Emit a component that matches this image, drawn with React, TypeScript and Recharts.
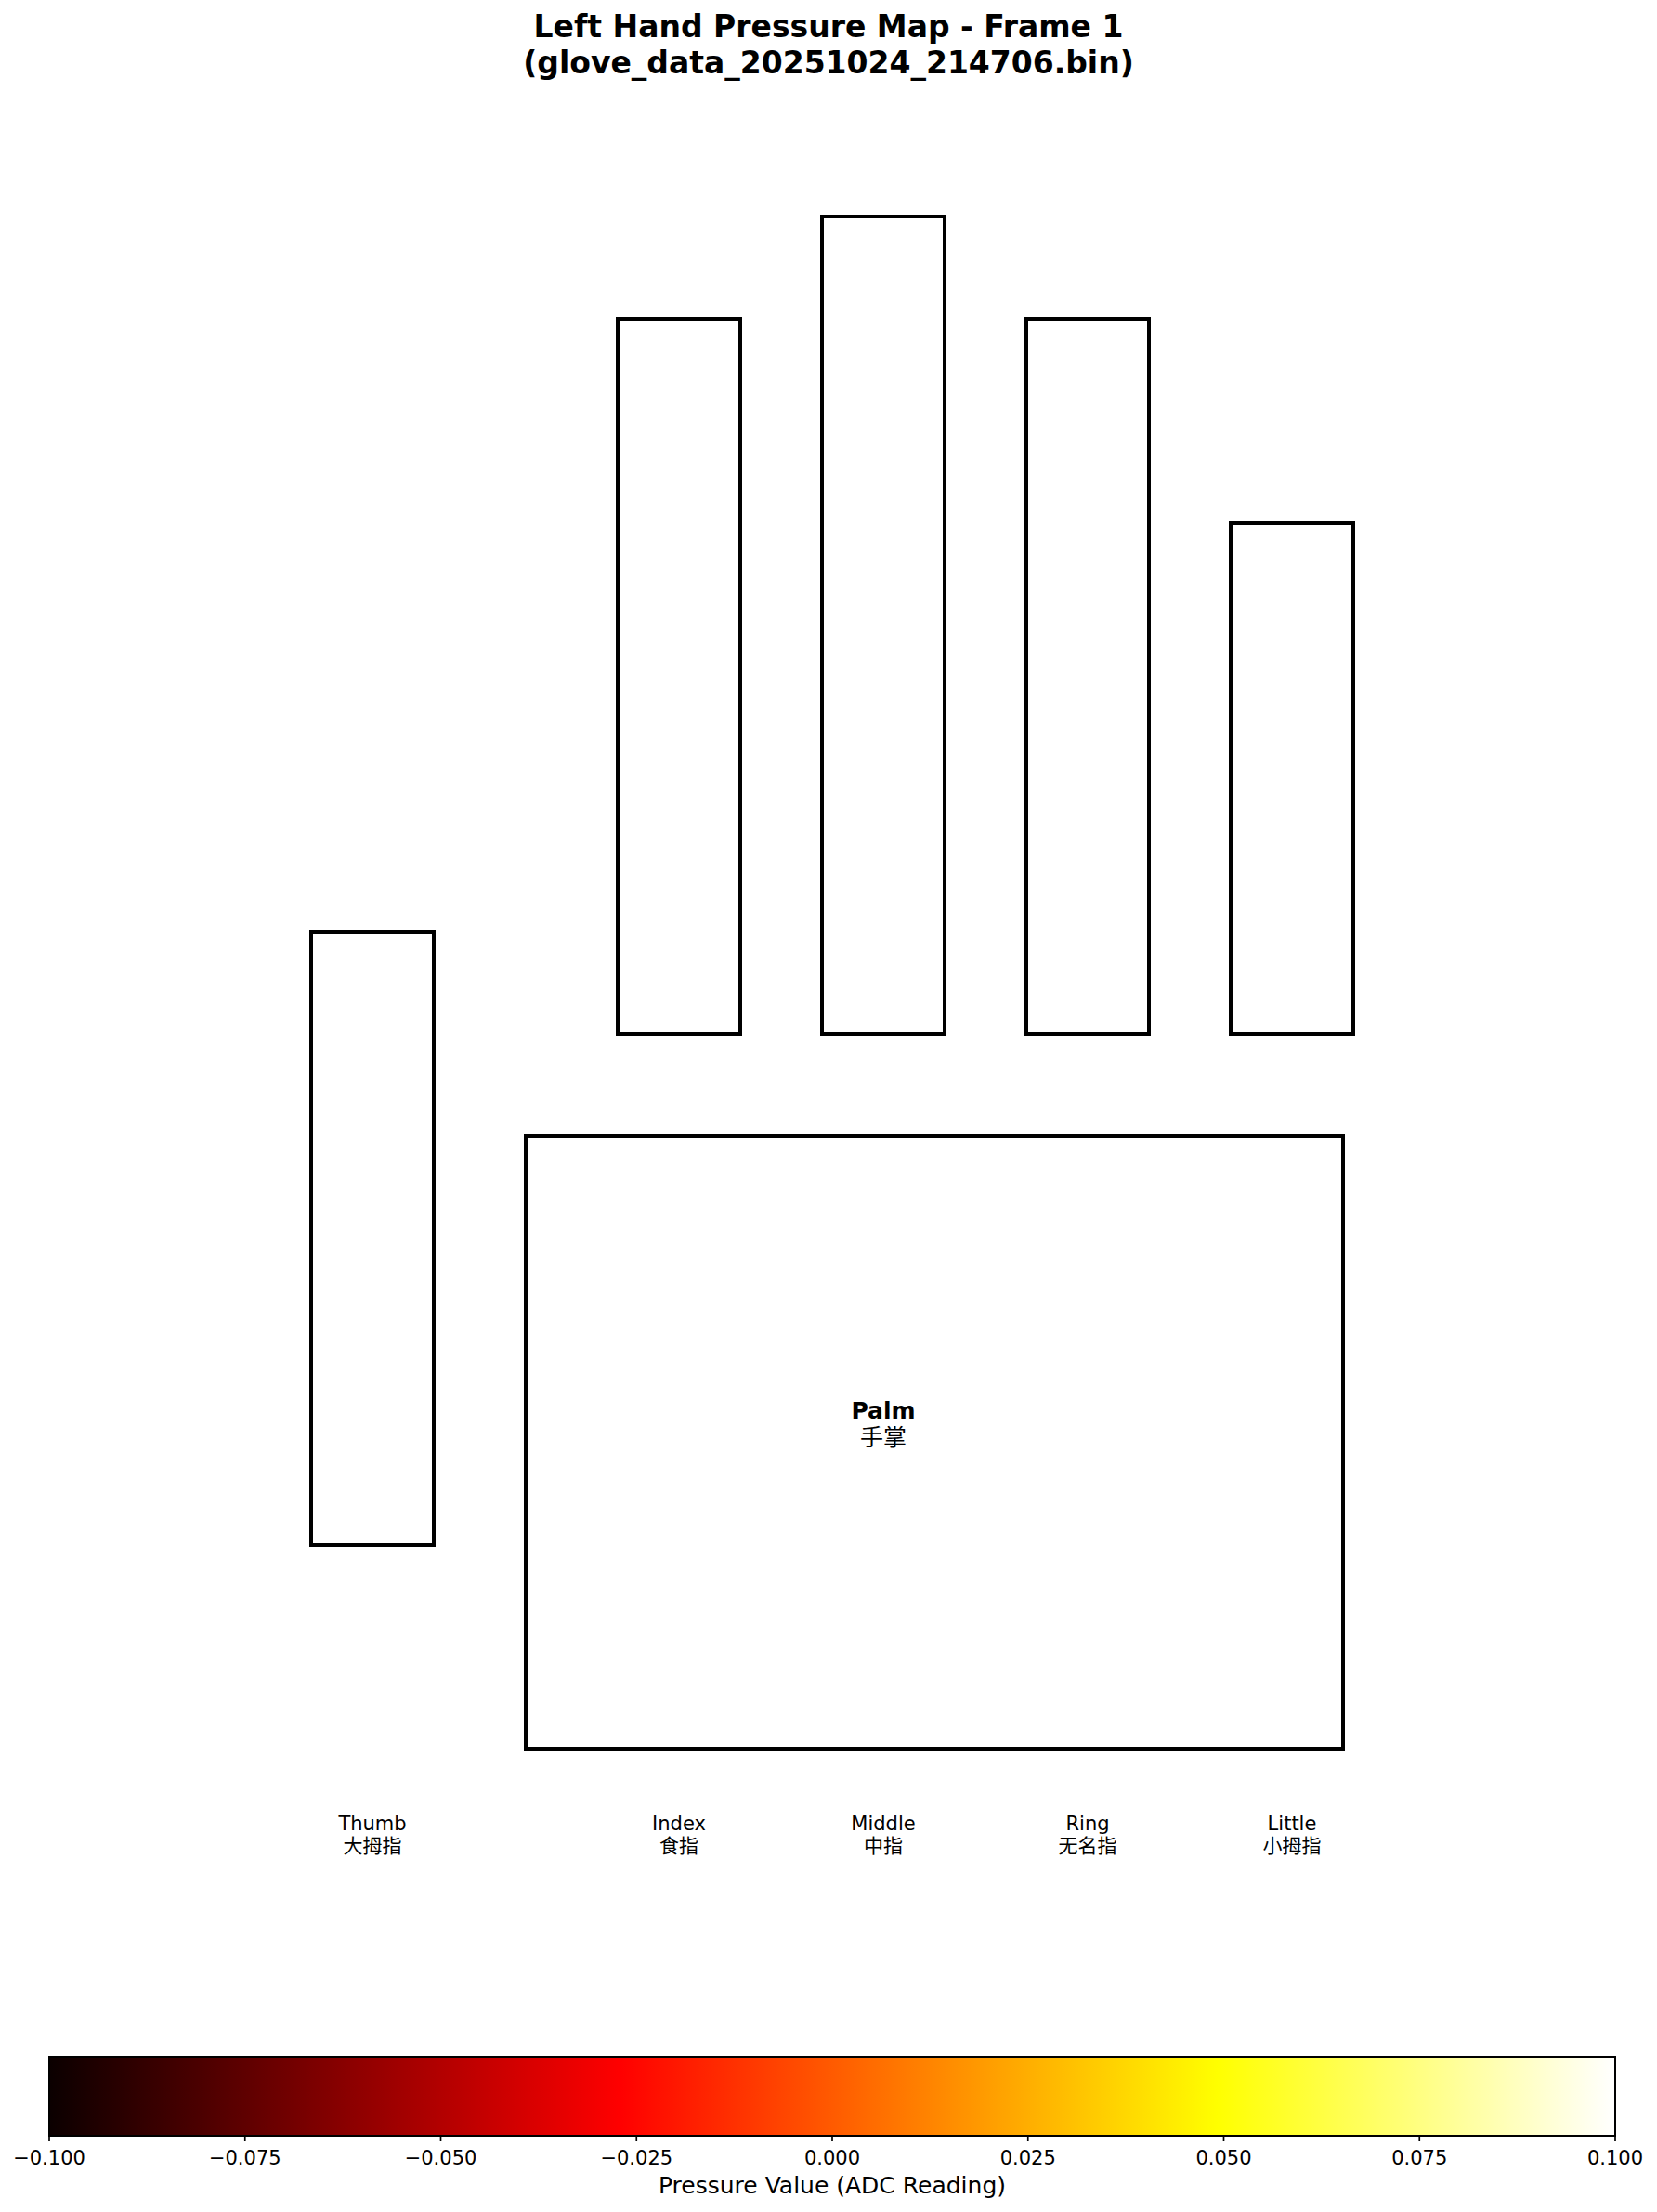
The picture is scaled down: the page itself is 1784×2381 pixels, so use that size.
import { ComposedChart, XAxis, YAxis, ReferenceArea, Scatter } from 'recharts';

const fingerNames = ['Thumb', 'Index', 'Middle', 'Ring', 'Little'];
const fingerNamesZh = ['大拇指', '食指', '中指', '无名指', '小拇指'];
const fingerCenters = [-1.5, 0, 1, 2, 3];
const fingerBottoms = [1, 3.5, 3.5, 3.5, 3.5];
const fingerTops = [4, 7, 7.5, 7, 6];
const palmX = [-0.75, 3.25];
const palmY = [0, 3];
const palmLabelAt = [1, 1.5];
const colorbarTicks = [-0.1, -0.075, -0.05, -0.025, 0, 0.025, 0.05, 0.075, 0.1];

const FINGER_WIDTH = 0.6;
const LABEL_Y = -0.42;
const FONT = '"DejaVu Sans", "Noto Sans CJK SC", sans-serif';

const fmtTick = (v: number) => (v < 0 ? '\u2212' + Math.abs(v).toFixed(3) : v.toFixed(3));

const FingerLabel = (props: any) => {
    const { cx, cy, payload } = props;
    return (
        <g>
            <text x={cx} y={cy - 12} textAnchor="middle" dominantBaseline="central" fontSize={21} fontFamily={FONT} fill="#000">
                {payload.en}
            </text>
            <text x={cx} y={cy + 12} textAnchor="middle" dominantBaseline="central" fontSize={21} fontFamily={FONT} fill="#000">
                {payload.zh}
            </text>
        </g>
    );
};

const PalmLabel = (props: any) => {
    const { cx, cy } = props;
    return (
        <g>
            <text x={cx} y={cy - 35} textAnchor="middle" dominantBaseline="central" fontSize={25} fontWeight="bold" fontFamily={FONT} fill="#000">
                Palm
            </text>
            <text x={cx} y={cy - 6} textAnchor="middle" dominantBaseline="central" fontSize={25} fontFamily={FONT} fill="#000">
                手掌
            </text>
        </g>
    );
};

export default function App() {
    const labelData = fingerCenters.map((x, i) => ({ x, y: LABEL_Y, en: fingerNames[i], zh: fingerNamesZh[i] }));
    const palmData = [{ x: palmLabelAt[0], y: palmLabelAt[1] }];
    const cbData = colorbarTicks.map((v) => ({ v, y: 0.5 }));

    return (
        <div style={{ position: 'absolute', top: 0, left: 0, width: 1784, height: 2381, background: '#fff', fontFamily: FONT }}>
            <div style={{ position: 'absolute', top: 9, left: 0, width: 1784, textAlign: 'center', fontSize: 33, fontWeight: 'bold', lineHeight: '39px', color: '#000' }}>
                Left Hand Pressure Map - Frame 1
                <br />
                (glove_data_20251024_214706.bin)
            </div>

            <div style={{ position: 'absolute', top: 0, left: 0 }}>
                <ComposedChart width={1784} height={2150} margin={{ top: 123, right: 63, bottom: 47, left: 71 }} data={labelData}>
                    <XAxis type="number" dataKey="x" domain={[-3, 4.5]} hide allowDataOverflow />
                    <YAxis type="number" dataKey="y" domain={[-1, 8]} hide allowDataOverflow />
                    {fingerCenters.map((c, i) => (
                        <ReferenceArea
                            key={fingerNames[i]}
                            x1={c - FINGER_WIDTH / 2}
                            x2={c + FINGER_WIDTH / 2}
                            y1={fingerBottoms[i]}
                            y2={fingerTops[i]}
                            fill="#fff"
                            fillOpacity={1}
                            stroke="#000"
                            strokeWidth={4}
                            ifOverflow="visible"
                        />
                    ))}
                    <ReferenceArea x1={palmX[0]} x2={palmX[1]} y1={palmY[0]} y2={palmY[1]} fill="#fff" fillOpacity={1} stroke="#000" strokeWidth={4} ifOverflow="visible" />
                    <Scatter data={labelData} dataKey="y" shape={FingerLabel} isAnimationActive={false} />
                    <Scatter data={palmData} dataKey="y" shape={PalmLabel} isAnimationActive={false} />
                </ComposedChart>
            </div>

            <div style={{ position: 'absolute', top: 2200, left: 0 }}>
                <ComposedChart width={1784} height={190} margin={{ top: 14, right: 45, bottom: 61, left: 53 }} data={cbData}>
                    <defs>
                        <linearGradient id="hotGradient" x1="0" y1="0" x2="1" y2="0">
                            <stop offset="0" stopColor="#0b0000" />
                            <stop offset="0.365" stopColor="#ff0000" />
                            <stop offset="0.746" stopColor="#ffff00" />
                            <stop offset="1" stopColor="#ffffff" />
                        </linearGradient>
                    </defs>
                    <XAxis
                        type="number"
                        dataKey="v"
                        domain={[-0.1, 0.1]}
                        ticks={colorbarTicks}
                        tickFormatter={fmtTick}
                        axisLine={false}
                        tickSize={6}
                        tickMargin={10}
                        tickLine={{ stroke: '#000', strokeWidth: 1.7 }}
                        tick={{ fill: '#000', fontSize: 21, fontFamily: FONT }}
                        interval={0}
                        height={30}
                        allowDataOverflow
                    />
                    <YAxis type="number" dataKey="y" domain={[0, 1]} hide />
                    <ReferenceArea x1={-0.1} x2={0.1} y1={0} y2={1} fill="url(#hotGradient)" fillOpacity={1} stroke="#000" strokeWidth={2} ifOverflow="visible" />
                </ComposedChart>
            </div>

            <div style={{ position: 'absolute', top: 2338, left: 53, width: 1686, textAlign: 'center', fontSize: 25, lineHeight: '30px', color: '#000' }}>
                Pressure Value (ADC Reading)
            </div>
        </div>
    );
}
